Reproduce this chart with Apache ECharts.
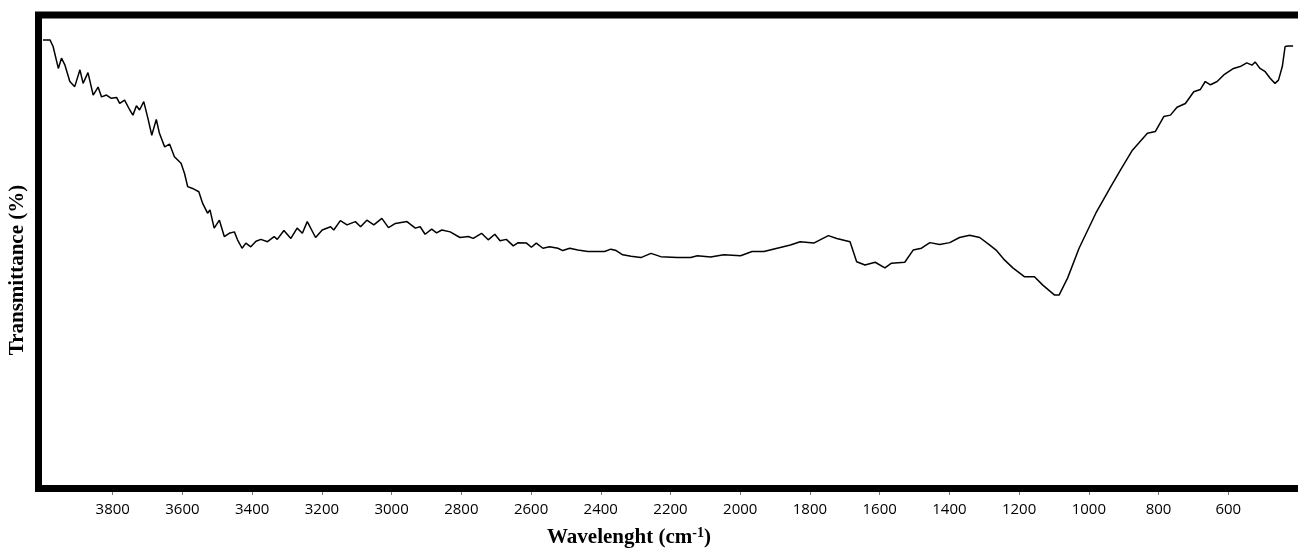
<!DOCTYPE html>
<html>
<head>
<meta charset="utf-8">
<script src="https://cdn.jsdelivr.net/npm/echarts@6/dist/echarts.min.js"></script>
<style>
html,body{margin:0;padding:0;background:#fff;}
#chart{width:1298px;height:551px;}
</style>
</head>
<body>
<div id="chart"></div>
<script>
// Wavenumber (cm-1) and transmittance (%)
const wavenumbers = [4000,3980,3971,3956,3947,3937,3923,3909,3894,3885,3871,3856,3842,3832,3818,3804,3789,3780,3766,3751,3742,3732,3723,3711,3699,3688,3675,3666,3651,3637,3623,3604,3594,3585,3571,3553,3542,3528,3521,3509,3494,3480,3466,3451,3442,3429,3418,3404,3389,3375,3356,3337,3328,3309,3289,3271,3256,3242,3218,3199,3175,3166,3147,3128,3104,3089,3071,3051,3028,3009,2989,2956,2932,2918,2904,2885,2871,2856,2832,2804,2780,2766,2742,2723,2704,2689,2671,2651,2637,2613,2599,2585,2566,2547,2523,2509,2489,2466,2437,2389,2371,2356,2337,2313,2285,2256,2228,2180,2142,2123,2085,2047,1999,1966,1932,1894,1856,1828,1789,1771,1747,1723,1685,1666,1642,1613,1585,1566,1528,1504,1480,1456,1428,1399,1371,1342,1313,1285,1266,1242,1218,1185,1156,1132,1099,1085,1061,1028,980,937,909,875,832,809,785,766,747,723,699,680,666,651,632,613,585,566,547,532,523,509,494,480,466,456,445,437,428,414];
const transmittance = [95.3,95.3,93.9,89.2,91.4,89.9,86.4,85.3,88.9,86.0,88.3,83.5,85.2,83.1,83.5,82.8,83.0,81.7,82.4,80.3,79.2,81.2,80.3,82.1,78.5,74.9,78.3,75.3,72.4,73.0,70.3,68.9,66.7,63.9,63.5,62.8,60.3,58.2,58.9,55.0,56.7,53.2,53.9,54.2,52.5,50.7,51.8,51.0,52.2,52.6,52.1,53.2,52.6,54.5,52.8,55.0,53.9,56.4,53.0,54.6,55.3,54.6,56.6,55.7,56.4,55.3,56.7,55.7,57.1,55.1,56.0,56.4,55.0,55.3,53.7,54.8,54.0,54.6,54.2,53.0,53.2,52.8,53.9,52.5,53.7,52.3,52.6,51.2,51.9,51.8,50.9,51.8,50.7,51.0,50.7,50.2,50.7,50.3,50.0,50.0,50.5,50.2,49.3,49.0,48.7,49.6,48.9,48.7,48.7,49.1,48.8,49.3,49.1,50.0,50.0,50.7,51.4,52.1,51.8,52.5,53.4,52.8,52.1,47.8,47.1,47.7,46.5,47.5,47.7,50.3,50.7,51.9,51.5,51.9,53.0,53.5,53.0,51.4,50.3,48.2,46.5,44.6,44.6,42.8,40.7,40.7,44.3,50.7,58.2,63.9,67.5,71.7,75.3,75.7,78.9,79.2,80.9,81.7,84.2,84.7,86.4,85.7,86.4,87.8,89.2,89.6,90.4,89.9,90.6,89.2,88.5,87.1,86.0,86.7,89.6,93.9,94.0,94.0];
const xTicks = [3800,3600,3400,3200,3000,2800,2600,2400,2200,2000,1800,1600,1400,1200,1000,800,600];
const xTitle = 'Wavelenght (cm';
const xTitleSup = '-1';
const yTitle = 'Transmittance (%)';

const chart = echarts.init(document.getElementById('chart'), null, {renderer: 'canvas'});
const seriesData = wavenumbers.map((w, i) => [w, transmittance[i]]);

chart.setOption({
  animation: false,
  backgroundColor: '#ffffff',
  grid: {left: 43, top: 18, width: 1260, height: 467, containLabel: false, show: false},
  xAxis: {
    type: 'value', min: 400, max: 4000, inverse: true,
    axisLine: {show: false},
    splitLine: {show: false},
    axisTick: {show: true, customValues: xTicks, length: 10, lineStyle: {color: '#777', width: 1}},
    axisLabel: {show: true, customValues: xTicks, margin: 17, color: '#000', fontFamily: 'Open Sans', fontSize: 15,
      formatter: function (v) { return String(v); }}
  },
  yAxis: {type: 'value', min: 0, max: 100, show: false},
  graphic: [
    {type: 'rect', z: 100, silent: true,
     shape: {x: 38.5, y: 15, width: 1400, height: 473.5},
     style: {fill: 'none', stroke: '#000', lineWidth: 7}},
    {type: 'text', z: 100, left: 547, top: 526,
     style: {text: '{a|' + xTitle + '}{s|' + xTitleSup + '}{a|)}',
       rich: {
         a: {fontFamily: 'Liberation Serif', fontWeight: 'bold', fontSize: 21, fill: '#000', verticalAlign: 'bottom'},
         s: {fontFamily: 'Liberation Serif', fontWeight: 'bold', fontSize: 14, fill: '#000', verticalAlign: 'bottom', padding: [0, 0, 8, 0]}
       }}},
    {type: 'text', z: 100, x: 7, y: 270, rotation: Math.PI / 2,
     style: {text: yTitle, fontFamily: 'Liberation Serif', fontWeight: 'bold', fontSize: 21, fill: '#000', align: 'center', verticalAlign: 'top'}}
  ],
  series: [{
    type: 'line', data: seriesData, showSymbol: false, symbol: 'none',
    lineStyle: {color: '#000', width: 1.5}, smooth: false
  }]
});
</script>
</body>
</html>
